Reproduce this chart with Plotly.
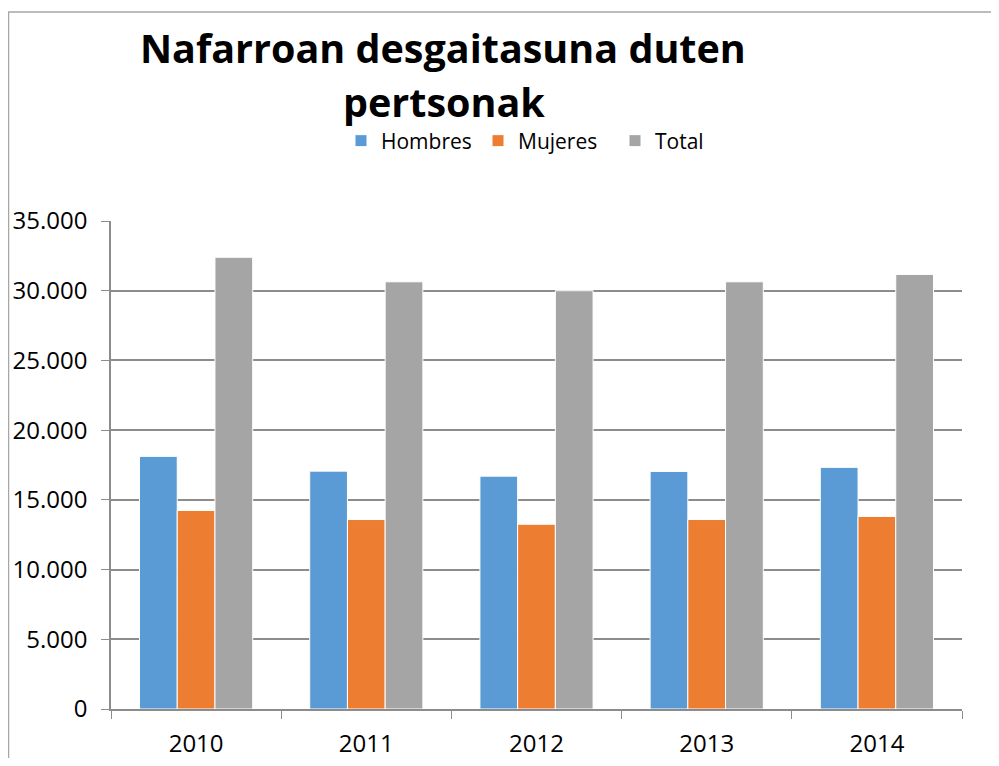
import plotly.graph_objects as go

years = ["2010", "2011", "2012", "2013", "2014"]
hombres = [18120, 17060, 16700, 17040, 17330]
mujeres = [14240, 13590, 13250, 13590, 13810]
total = [32400, 30640, 30000, 30640, 31170]
series_names = ["Hombres", "Mujeres", "Total"]
colors = ["#5B9BD5", "#ED7D31", "#A5A5A5"]
y_ticks = [0, 5000, 10000, 15000, 20000, 25000, 30000, 35000]
y_tick_labels = ["0", "5.000", "10.000", "15.000", "20.000", "25.000", "30.000", "35.000"]
title_lines = ["Nafarroan desgaitasuna duten", "pertsonak"]

# page is offset by the default 8px body margin
OFF = 8
PW, PH = 999, 766
W, H = PW - 2 * OFF, PH - 2 * OFF
# plot area in page pixels
X0, X1, Y0, Y1 = 111, 962, 221, 709
L, T = X0 - OFF, Y0 - OFF
R, B = (OFF + W) - X1, (OFF + H) - Y1
pw, ph = W - L - R, H - T - B

FONT = "Open Sans"

def px_x(p):
    return (p - X0) / pw

def px_y(p):
    return (Y1 - p) / ph

fig = go.Figure()
for name, vals, c in zip(series_names, [hombres, mujeres, total], colors):
    fig.add_trace(go.Bar(x=years, y=vals, name=name,
                         marker=dict(color=c, line=dict(color="white", width=1))))

annotations = [
    dict(text="<b>%s</b>" % title_lines[0], x=px_x(443), y=px_y(48), xref="paper", yref="paper",
         xanchor="center", yanchor="middle", showarrow=False,
         font=dict(family=FONT, size=39.5, color="black")),
    dict(text="<b>%s</b>" % title_lines[1], x=px_x(444), y=px_y(101.5), xref="paper", yref="paper",
         xanchor="center", yanchor="middle", showarrow=False,
         font=dict(family=FONT, size=39.5, color="black")),
]

fig.update_layout(
    width=W, height=H,
    margin=dict(l=L, r=R, t=T, b=B, autoexpand=False),
    paper_bgcolor="white", plot_bgcolor="white",
    barmode="group", bargap=0.335, bargroupgap=0,
    font=dict(family=FONT, color="black"),
    annotations=annotations,
    legend=dict(
        orientation="h", x=px_x(341), xanchor="left", xref="paper",
        y=px_y(141), yanchor="middle", yref="paper",
        font=dict(family=FONT, size=21, color="black"),
        itemwidth=30, traceorder="normal", entrywidth=92, entrywidthmode="pixels",
        bgcolor="rgba(0,0,0,0)",
    ),
    xaxis=dict(
        showgrid=False, showline=True, linecolor="#8C8C8C", linewidth=1.5,
        ticks="outside", tickson="boundaries", ticklen=8, tickcolor="#8C8C8C",
        tickfont=dict(family=FONT, size=24, color="black"), ticklabelstandoff=12,
        automargin=False,
    ),
    yaxis=dict(
        range=[0, 35000], tickvals=y_ticks, ticktext=y_tick_labels,
        showgrid=True, gridcolor="#8C8C8C", gridwidth=1.5,
        showline=True, linecolor="#8C8C8C", linewidth=1.5,
        ticks="outside", ticklen=8, tickcolor="#8C8C8C",
        tickfont=dict(family=FONT, size=24, color="black"), ticklabelstandoff=9,
        zeroline=False, automargin=False,
    ),
    shapes=[
        dict(type="line", xref="paper", yref="paper", x0=px_x(8), x1=px_x(PW + 5), y0=px_y(12), y1=px_y(12),
             line=dict(color="#A6A6A6", width=1.5)),
        dict(type="line", xref="paper", yref="paper", x0=px_x(8.5), x1=px_x(8.5), y0=px_y(12), y1=px_y(PH + 5),
             line=dict(color="#A6A6A6", width=1.5)),
    ],
)

fig.write_html("out.html")
